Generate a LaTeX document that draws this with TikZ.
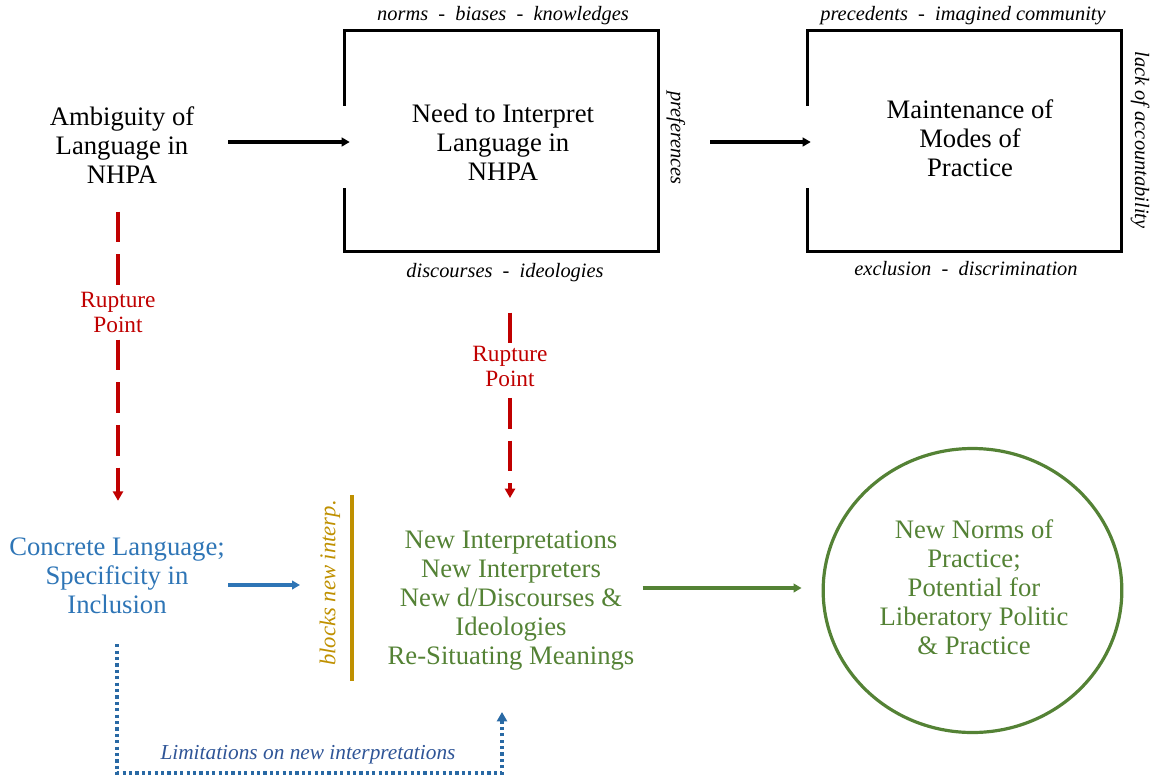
\documentclass[tikz,border=0pt]{standalone}
\usepackage{fontspec}
\setmainfont{Liberation Serif}
\usetikzlibrary{arrows.meta,calc,shapes.geometric}
\definecolor{rup}{HTML}{C00000}
\definecolor{cblue}{HTML}{2E75B6}
\definecolor{dblue}{HTML}{2F5597}
\definecolor{cgreen}{HTML}{548235}
\definecolor{cgold}{HTML}{BF9000}
\begin{document}
\begin{tikzpicture}[x=0.75pt,y=-0.75pt,
  main/.style={align=center,font=\fontsize{20}{21.75}\selectfont,inner sep=0pt},
  lab/.style={font=\fontsize{15.3}{17}\selectfont\itshape,inner sep=0pt},
  frame/.style={line width=2.2pt},
  boxnode/.style={minimum width=234.75pt,minimum height=165pt,inner sep=0pt},
  blk/.style={line width=2.4pt,-{Triangle[length=6pt,width=6.5pt]}},
  rupt/.style={rup,line width=2.6pt,dash pattern=on 23pt off 9pt,-{Triangle[length=7pt,width=7.5pt]}},
  rlab/.style={rup,fill=white,align=center,font=\fontsize{17.5}{18.75}\selectfont,inner sep=2pt},
  bluearr/.style={cblue,line width=2.4pt,-{Triangle[length=6pt,width=6.5pt]}},
  greenarr/.style={cgreen,line width=2.6pt,-{Triangle[length=6pt,width=6.5pt]}},
  dotarr/.style={cblue!90!black,line width=2.6pt,dash pattern=on 2.4pt off 2.4pt,-{Triangle[length=7pt,width=7.5pt]}}
]
\useasboundingbox (0,0) rectangle (1157,779);

% top row
\node[main,minimum width=159pt] (amb) at (122,145) {Ambiguity of\\Language in\\NHPA};
\node[boxnode] (box1) at (501.5,141) {};
\node[main] (t1) at (503,142) {Need to Interpret\\Language in\\NHPA};
\node[boxnode] (box2) at (964.5,141) {};
\node[main] (t2) at (970,138) {Maintenance of\\Modes of\\Practice};

\draw[frame] ($(box1.north west)+(0,75)$) -- (box1.north west) -- (box1.north east)
  -- (box1.south east) -- (box1.south west) -- ($(box1.south west)+(0,-63)$);
\draw[frame] ($(box2.north west)+(0,75)$) -- (box2.north west) -- (box2.north east)
  -- (box2.south east) -- (box2.south west) -- ($(box2.south west)+(0,-63)$);

\node[lab] (l1) at (503,16) {norms\enspace-\enspace biases\enspace-\enspace knowledges};
\node[lab] (l2) at (505,273) {discourses\enspace-\enspace ideologies};
\node[lab,rotate=-90] (l3) at (676,138) {preferences};
\node[lab] (l4) at (963,16) {precedents\enspace-\enspace imagined community};
\node[lab] (l5) at (966,269) {exclusion\enspace-\enspace discrimination};
\node[lab,rotate=-90] (l6) at (1140,140) {lack of accountability};

\draw[blk] ($(amb.east)+(0,-3)$) -- ($(box1.west)+(5,1)$);
\draw[blk] ($(box1.east)+(52,1)$) -- ($(box2.west)+(3,1)$);

% bottom row
\node[main,cblue,minimum width=166.5pt] (conc) at (117,576) {Concrete Language;\\Specificity in\\Inclusion};
\node[main,cgreen] (newi) at (511,601) {New Interpretations\\New Interpreters\\New d/Discourses \&\\Ideologies\\Re-Situating Meanings};
\node[ellipse,draw=cgreen,line width=2.4pt,minimum width=224pt,minimum height=213pt,inner sep=0pt] (circ) at (972.5,590.5) {};
\node[main,cgreen] (t3) at (974,587.5) {New Norms of\\Practice;\\Potential for\\Liberatory Politic\\\& Practice};

\draw[cgold,line width=2.8pt] (352,495) -- (352,681);
\node[lab,cgold,rotate=90,font=\fontsize{17}{18}\selectfont\itshape] (blk) at (330,583) {blocks new interp.};
\coordinate (barin) at (300,585);

\draw[rupt] ($(amb.south)+(-4,28)$) -- node[rlab,pos=0.35] (r1) {Rupture\\Point} ($(conc.north)+(1,-37)$);
\draw[rupt] ($(l2.south)+(5,30)$) -- node[rlab,pos=0.29] (r2) {Rupture\\Point} ($(newi.north)+(-1,-33)$);

\draw[bluearr] ($(conc.east)+(0,9)$) -- (barin);
\coordinate (gs) at ($(newi.east)+(8,-13)$);
\draw[greenarr] (gs) -- ([xshift=-15pt]gs -| circ.west);

\draw[dotarr] ($(conc.south)+(0,30)$) |- (502,773) -- (502,712);
\node[lab,dblue,font=\fontsize{16}{17}\selectfont\itshape] (lim) at (308,755) {Limitations on new interpretations};
\end{tikzpicture}
\end{document}
